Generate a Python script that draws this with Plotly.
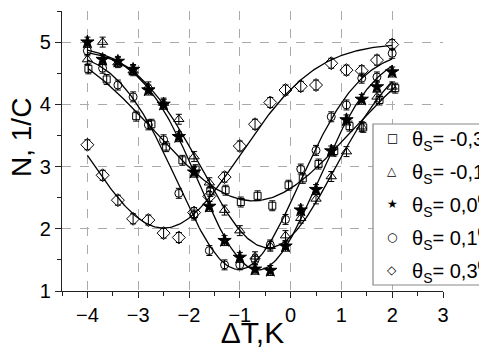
import numpy as np
import plotly.graph_objects as go

# ---- data ----
x_grid = [-4.0, -3.7, -3.4, -3.1, -2.8, -2.5, -2.2, -1.9, -1.6, -1.3, -1.0,
          -0.7, -0.4, -0.1, 0.2, 0.5, 0.8, 1.1, 1.4, 1.7, 2.0]

sq_x = [-3.98, -3.62, -3.04, -2.74, -2.45, -2.13, -1.87, -1.58, -1.28, -0.98,
        -0.65, -0.36, -0.04, 0.24, 0.55, 0.86, 1.16, 1.43, 1.75, 2.06]
sq_y = [4.57, 4.40, 3.81, 3.68, 3.32, 3.10, 2.95, 2.60, 2.62, 2.43,
        2.53, 2.37, 2.70, 2.81, 3.04, 3.25, 3.65, 3.63, 4.07, 4.26]

tri_y = [4.72, 5.00, 4.67, 4.54, 4.28, 4.02, 3.76, 3.16, 2.74, 2.30, 1.97,
         1.55, 1.72, 1.89, 2.17, 2.48, 2.84, 3.24, 3.64, 4.12, 4.28]

star_y = [5.00, 4.72, 4.69, 4.56, 4.23, 4.00, 3.48, 2.91, 2.36, 1.81, 1.54,
          1.35, 1.33, 1.72, 2.30, 2.63, 3.25, 3.75, 4.08, 4.28, 4.52]

circ_y = [4.86, 4.58, 4.31, 4.12, 3.67, 3.43, 2.57, 2.22, 1.65, 1.42, 1.42,
          1.50, 1.74, 2.15, 2.96, 3.26, 3.80, 3.99, 4.42, 4.44, 4.82]

dia_y = [3.35, 2.86, 2.46, 2.16, 2.14, 1.93, 1.86, 2.26, 2.52, 2.83, 3.33,
         3.68, 4.03, 4.23, 4.29, 4.31, 4.66, 4.55, 4.54, 4.71, 4.96]

err = 0.08

# fit baselines (None = free parameter)
fit_baseline = [None, None, None, None, 4.98]

labels = ["θ<sub>S</sub>= -0,3<sup>0</sup>",
          "θ<sub>S</sub>= -0,1<sup>0</sup>",
          "θ<sub>S</sub>= 0,0<sup>0</sup>",
          "θ<sub>S</sub>= 0,1<sup>0</sup>",
          "θ<sub>S</sub>= 0,3<sup>0</sup>"]
legend_glyphs = ["□", "△", "★", "○", "◇"]


def gauss_fit(x, y, y0_fixed=None):
    """Least-squares fit of y = y0 - A*exp(-(x-xc)^2/(2 w^2)) (grid over xc, w)."""
    x = np.asarray(x, float)
    y = np.asarray(y, float)
    best = None
    for xc in np.arange(-4.0, 2.0, 0.02):
        for w in np.arange(0.4, 3.5, 0.02):
            g = np.exp(-(x - xc) ** 2 / (2 * w * w))
            if y0_fixed is None:
                M = np.column_stack([np.ones_like(x), -g])
                coef, *_ = np.linalg.lstsq(M, y, rcond=None)
                pred = M @ coef
                y0, A = coef
            else:
                A = np.sum(g * (y0_fixed - y)) / np.sum(g * g)
                y0 = y0_fixed
                pred = y0 - A * g
            r = np.sum((pred - y) ** 2)
            if best is None or r < best[0]:
                best = (r, y0, A, xc, w)
    _, y0, A, xc, w = best
    xs = np.linspace(x.min(), x.max(), 200)
    return xs, y0 - A * np.exp(-(xs - xc) ** 2 / (2 * w * w))


series = [
    (sq_x, sq_y, "square-open", 7),
    (x_grid, tri_y, "triangle-up-open", 9),
    (x_grid, star_y, "star", 10),
    (x_grid, circ_y, "circle-open", 8),
    (x_grid, dia_y, "diamond-open", 10),
]

FONT = "Liberation Sans, Arial"

fig = go.Figure()
for (xs, ys, sym, sz), b in zip(series, fit_baseline):
    fx, fy = gauss_fit(xs, ys, b)
    fig.add_trace(go.Scatter(x=fx, y=fy, mode="lines",
                             line=dict(color="black", width=1.3),
                             showlegend=False, hoverinfo="skip"))
for (xs, ys, sym, sz), lab in zip(series, labels):
    fig.add_trace(go.Scatter(
        x=xs, y=ys, mode="markers", name=lab, showlegend=False,
        marker=dict(symbol=sym, size=sz, color="black",
                    line=dict(color="black", width=1)),
        error_y=dict(type="constant", value=err, thickness=1, width=3,
                     color="black"),
    ))

axis_common = dict(
    showline=True, linecolor="#222", linewidth=1.2,
    ticks="outside", ticklen=6, tickwidth=1.2, tickcolor="#222",
    showgrid=True, gridcolor="#aaaaaa", griddash="dash", gridwidth=1,
    zeroline=False,
    tickfont=dict(family=FONT, size=20, color="black"),
    minor=dict(ticks="outside", ticklen=4, tickcolor="#222", showgrid=False),
)

fig.update_xaxes(range=[-4.5, 3], tickvals=[-4, -3, -2, -1, 0, 1, 2, 3],
                 title=dict(text="ΔT,K", font=dict(family=FONT, size=30, color="black"),
                            standoff=2),
                 minor_dtick=0.5, **axis_common)
fig.update_yaxes(range=[1, 5.5], tickvals=[1, 2, 3, 4, 5],
                 minor_dtick=0.5, **axis_common)

# legend box (drawn manually so that it is clipped by the right edge like the original)
L, R, T, B = 62, 36, 11, 58
W, H = 479, 349
pw, ph = W - L - R, H - T - B


def px_x(p):
    return (p - L) / pw


def px_y(p):
    return (H - B - p) / ph


shapes = [dict(type="rect", xref="paper", yref="paper",
               x0=px_x(373), x1=px_x(500), y0=px_y(285), y1=px_y(124),
               line=dict(color="#888888", width=1.2), fillcolor="white", layer="above")]

annotations = [dict(text="N, 1/C", xref="paper", yref="paper",
                    x=px_x(21), y=px_y(138), textangle=-90, showarrow=False,
                    font=dict(family=FONT, size=28, color="black"),
                    xanchor="center", yanchor="middle")]
entry_y = [138, 171, 204, 237, 270]
for gl, lab, ey in zip(legend_glyphs, labels, entry_y):
    annotations.append(dict(text=gl, xref="paper", yref="paper", x=px_x(392), y=px_y(ey),
                            showarrow=False, xanchor="center", yanchor="middle",
                            font=dict(family="DejaVu Sans", size=12, color="black")))
    annotations.append(dict(text=lab, xref="paper", yref="paper", x=px_x(410), y=px_y(ey + 1),
                            showarrow=False, xanchor="left", yanchor="middle",
                            font=dict(family=FONT, size=20, color="black")))

fig.update_layout(
    width=W, height=H,
    margin=dict(l=L, r=R, t=T, b=B, autoexpand=False),
    plot_bgcolor="white", paper_bgcolor="white",
    showlegend=False,
    shapes=shapes, annotations=annotations,
)

fig.write_html("out.html")
